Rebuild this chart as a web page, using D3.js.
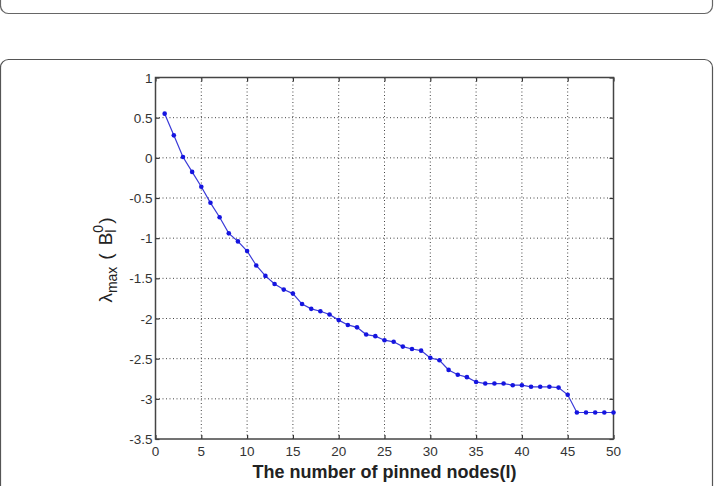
<!DOCTYPE html>
<html>
<head>
<meta charset="utf-8">
<script src="https://cdn.jsdelivr.net/npm/d3@7"></script>
<style>
  body { margin: 0; background: #fff; }
  text { font-family: Arial, "Liberation Sans", sans-serif; }
</style>
</head>
<body>
<svg id="chart" width="717" height="486"></svg>
<script>
// data
var nodes = d3.range(1, 51)
var lambdaMax = [0.55, 0.28, 0.01, -0.175, -0.36, -0.56, -0.74, -0.94, -1.04, -1.16,
  -1.34, -1.47, -1.57, -1.64, -1.69, -1.82, -1.88, -1.91, -1.95, -2.02,
  -2.08, -2.11, -2.20, -2.22, -2.27, -2.29, -2.35, -2.38, -2.40, -2.49,
  -2.52, -2.64, -2.70, -2.73, -2.79, -2.81, -2.81, -2.81, -2.83, -2.83,
  -2.85, -2.85, -2.85, -2.86, -2.95, -3.17, -3.17, -3.17, -3.17, -3.17]
var xTicks = [0, 5, 10, 15, 20, 25, 30, 35, 40, 45, 50]
var yTicks = [1, 0.5, 0, -0.5, -1, -1.5, -2, -2.5, -3, -3.5]

var svg = d3.select("#chart")

// page frames (figure boxes)
svg.append("rect")
  .attr("x", 0.5).attr("y", -20)
  .attr("width", 712).attr("height", 33.5)
  .attr("rx", 8)
  .attr("fill", "none").attr("stroke", "#666").attr("stroke-width", 1.2)
svg.append("rect")
  .attr("x", 0.5).attr("y", 59.5)
  .attr("width", 712).attr("height", 460)
  .attr("rx", 8)
  .attr("fill", "none").attr("stroke", "#555").attr("stroke-width", 1.2)

var pLeft = 155.5, pRight = 613.5, pTop = 77.5, pBottom = 439

var x = d3.scaleLinear().domain([0, 50]).range([pLeft, pRight])
var y = d3.scaleLinear().domain([-3.5, 1]).range([pBottom, pTop])

// dotted grid
svg.append("g").selectAll("line")
  .data(xTicks.slice(1, -1))
  .enter().append("line")
  .attr("x1", d => x(d)).attr("x2", d => x(d))
  .attr("y1", pTop).attr("y2", pBottom)
  .attr("stroke", "#444").attr("stroke-width", 1)
  .attr("stroke-dasharray", "1,2.5")
svg.append("g").selectAll("line")
  .data(yTicks.slice(1, -1))
  .enter().append("line")
  .attr("x1", pLeft).attr("x2", pRight)
  .attr("y1", d => y(d)).attr("y2", d => y(d))
  .attr("stroke", "#444").attr("stroke-width", 1)
  .attr("stroke-dasharray", "1,2.5")

// axes, ticks pointing inward like matlab
svg.append("g")
  .attr("transform", "translate(0," + pBottom + ")")
  .call(d3.axisTop(x).tickValues(xTicks).tickSize(4).tickFormat(""))
svg.append("g")
  .attr("transform", "translate(0," + pTop + ")")
  .call(d3.axisBottom(x).tickValues(xTicks).tickSize(4).tickFormat(""))
svg.append("g")
  .attr("transform", "translate(" + pLeft + ",0)")
  .call(d3.axisRight(y).tickValues(yTicks).tickSize(4).tickFormat(""))
svg.append("g")
  .attr("transform", "translate(" + pRight + ",0)")
  .call(d3.axisLeft(y).tickValues(yTicks).tickSize(4).tickFormat(""))
svg.selectAll(".domain").remove()
svg.selectAll(".tick line").attr("stroke", "#333").attr("stroke-width", 1.2)

svg.append("rect")
  .attr("x", pLeft).attr("y", pTop)
  .attr("width", pRight - pLeft).attr("height", pBottom - pTop)
  .attr("fill", "none").attr("stroke", "#444").attr("stroke-width", 1.5)

// tick labels
svg.append("g").selectAll("text")
  .data(xTicks)
  .enter().append("text")
  .attr("x", d => x(d)).attr("y", pBottom + 17)
  .attr("text-anchor", "middle")
  .attr("font-size", 13.5).attr("fill", "#333")
  .text(d => d)
svg.append("g").selectAll("text")
  .data(yTicks)
  .enter().append("text")
  .attr("x", pLeft - 3).attr("y", d => y(d) + 5)
  .attr("text-anchor", "end")
  .attr("font-size", 13.5).attr("fill", "#333")
  .text(d => d)

// axis titles
svg.append("text")
  .attr("x", (pLeft + pRight) / 2).attr("y", 478)
  .attr("text-anchor", "middle")
  .attr("font-size", 18).attr("font-weight", "bold").attr("fill", "#222")
  .text("The number of pinned nodes(l)")

var yTitle = svg.append("text")
  .attr("transform", "translate(112,260) rotate(-90)")
  .attr("text-anchor", "middle")
  .attr("font-size", 19).attr("fill", "#222")
yTitle.append("tspan").text("λ")
yTitle.append("tspan").attr("font-size", 14).attr("dy", 5).text("max")
yTitle.append("tspan").attr("dx", 7).attr("dy", -5).text("(")
yTitle.append("tspan").attr("dx", 8).text("B")
yTitle.append("tspan").attr("font-size", 14).attr("dy", -9).text("0")
yTitle.append("tspan").attr("font-size", 14).attr("dx", -8).attr("dy", 13).text("l")
yTitle.append("tspan").attr("dx", 6).attr("dy", -4).text(")")

// the series
var pts = nodes.map((d, i) => [d, lambdaMax[i]])
var line = d3.line()
  .x(d => x(d[0]))
  .y(d => y(d[1]))

svg.append("path")
  .datum(pts)
  .attr("d", line)
  .attr("fill", "none")
  .attr("stroke", "#3a3ad8").attr("stroke-width", 1.2)

svg.append("g").selectAll("circle")
  .data(pts)
  .enter().append("circle")
  .attr("cx", d => x(d[0])).attr("cy", d => y(d[1]))
  .attr("r", 2.3)
  .attr("fill", "#1515e0")
</script>
</body>
</html>
